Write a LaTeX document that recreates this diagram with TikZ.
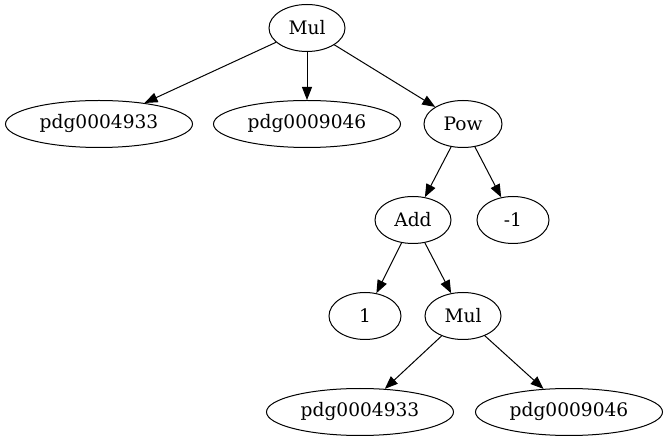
\documentclass[tikz,border=0pt]{standalone}
\usepackage{fontspec}
\setmainfont{DejaVu Serif}
\usetikzlibrary{shapes.geometric, arrows.meta}

\begin{document}
\begin{tikzpicture}[
    x=1pt, y=-1pt,
    font=\fontsize{18.6}{22}\selectfont,
    tnode/.style={ellipse, draw, line width=1pt, inner sep=0pt, minimum height=47pt},
    op/.style={tnode, minimum width=76pt},
    num/.style={tnode, minimum width=72pt},
    leaf/.style={tnode, minimum width=187pt},
    arrow/.style={-{Triangle[length=13pt, width=10pt]}, line width=1pt}
]
\useasboundingbox (0,0) rectangle (667,443);

\node[op] (mul) at (307,28) {Mul};
\node[leaf] (pdgA) at (99,124) {pdg0004933};
\node[leaf] (pdgB) at (307,124) {pdg0009046};
\node[op, minimum width=78pt] (pow) at (463,124) {Pow};
\node[op] (add) at (413,220) {Add};
\node[num] (minus) at (513,220) {-1};
\node[num] (one) at (365,316) {1};
\node[op] (mulB) at (463,316) {Mul};
\node[leaf] (pdgC) at (360,412) {pdg0004933};
\node[leaf] (pdgD) at (569,412) {pdg0009046};

\draw[arrow] (mul) -- (pdgA);
\draw[arrow] (mul) -- (pdgB);
\draw[arrow] (mul) -- (pow);
\draw[arrow] (pow) -- (add);
\draw[arrow] (pow) -- (minus);
\draw[arrow] (add) -- (one);
\draw[arrow] (add) -- (mulB);
\draw[arrow] (mulB) -- (pdgC);
\draw[arrow] (mulB) -- (pdgD);

\end{tikzpicture}
\end{document}
